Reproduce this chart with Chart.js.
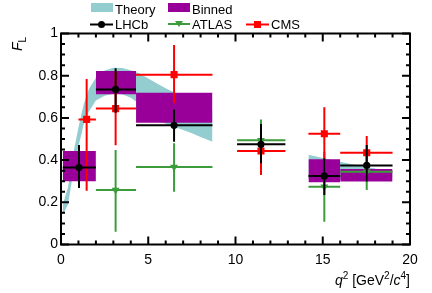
<!DOCTYPE html>
<html>
<head>
<meta charset="utf-8">
<title>FL vs q2</title>
<script src="https://cdn.jsdelivr.net/npm/chart.js"></script>
<style>
body{margin:0;background:#fff;font-family:'Liberation Sans',Arial,sans-serif;}
#wrap{position:relative;width:432px;height:293px;overflow:hidden;}
canvas{position:absolute;left:0;top:0;}
.lab{position:absolute;font-size:13px;line-height:13px;color:#000;white-space:nowrap;}
.sw{position:absolute;}
#ytitle{position:absolute;left:10px;top:51px;font-size:14px;line-height:14px;transform:rotate(-90deg);transform-origin:left top;white-space:nowrap;}
#ytitle sub{font-size:10px;vertical-align:-4px;}
#xtitle{position:absolute;right:22px;top:268px;font-size:14px;line-height:15px;white-space:nowrap;}
#xtitle sup{font-size:10px;vertical-align:6px;}
</style>
</head>
<body>
<div id="wrap">
  <canvas id="chart" width="432" height="293"></canvas>

  <!-- legend -->
  <div class="sw" style="left:91px;top:3px;width:22px;height:9px;background:#93cdd0"></div>
  <div class="lab" style="left:115px;top:3px">Theory</div>
  <div class="sw" style="left:168px;top:3px;width:22px;height:9px;background:#990099"></div>
  <div class="lab" style="left:192px;top:3px">Binned</div>
  <svg class="sw" style="left:0;top:0" width="300" height="40">
    <line x1="90" y1="24.5" x2="113" y2="24.5" stroke="#000" stroke-width="2"/>
    <circle cx="101.5" cy="24.5" r="3.5" fill="#000"/>
    <line x1="168" y1="24" x2="190" y2="24" stroke="#3c9c3c" stroke-width="2"/>
    <polygon points="175,21 183,21 179,27" fill="#3c9c3c"/>
    <line x1="246" y1="24.5" x2="269" y2="24.5" stroke="#ff0000" stroke-width="2"/>
    <rect x="254" y="21" width="7" height="7" fill="#ff0000"/>
  </svg>
  <div class="lab" style="left:115px;top:18px">LHCb</div>
  <div class="lab" style="left:192px;top:18px">ATLAS</div>
  <div class="lab" style="left:271px;top:18px">CMS</div>

  <div id="ytitle"><i>F</i><sub>L</sub></div>
  <div id="xtitle"><i>q</i><sup>2</sup> [GeV<sup>2</sup>/<i>c</i><sup>4</sup>]</div>
</div>

<script>
// ---- theory band (continuous prediction) ----
const bandLowX  = [0.1, 0.4, 0.7, 1.0, 1.3, 1.6, 2.0, 2.5, 3.0, 3.5, 4.0, 4.5, 5.0, 5.5, 6.0, 6.5, 7.0, 7.5, 8.0, 8.68];
const bandLowUp = [0.19, 0.27, 0.43, 0.555, 0.665, 0.737, 0.79, 0.825, 0.838, 0.836, 0.826, 0.81, 0.787, 0.763, 0.74, 0.72, 0.70, 0.68, 0.66, 0.635];
const bandLowDn = [0.14, 0.19, 0.34, 0.465, 0.57, 0.63, 0.682, 0.705, 0.715, 0.712, 0.695, 0.665, 0.625, 0.59, 0.572, 0.557, 0.543, 0.527, 0.51, 0.487];
const bandHighX  = [14.18, 15, 16, 17, 18, 19];
const bandHighUp = [0.425, 0.41, 0.392, 0.375, 0.36, 0.345];
const bandHighDn = [0.31, 0.31, 0.312, 0.314, 0.315, 0.315];

// ---- binned theory ----
const binLo = [0.1, 2.0, 4.3, 14.18, 16.0];
const binHi = [2.0, 4.3, 8.68, 16.0, 19.0];
const binMin = [0.30, 0.712, 0.577, 0.295, 0.298];
const binMax = [0.443, 0.822, 0.719, 0.404, 0.358];

// ---- LHCb ----
const lhcbX   = [1.03, 3.13, 6.48, 11.46, 15.09, 17.52];
const lhcbXlo = [0.1, 2.0, 4.3, 10.09, 14.18, 16.0];
const lhcbXhi = [2.0, 4.3, 8.68, 12.86, 16.0, 19.0];
const lhcbY   = [0.365, 0.735, 0.565, 0.475, 0.325, 0.375];
const lhcbYlo = [0.268, 0.625, 0.487, 0.385, 0.235, 0.298];
const lhcbYhi = [0.472, 0.835, 0.64, 0.571, 0.408, 0.471];

// ---- ATLAS ----
const atlasX   = [3.13, 6.48, 11.46, 15.09, 17.52];
const atlasXlo = [2.0, 4.3, 10.09, 14.18, 16.0];
const atlasXhi = [4.3, 8.68, 12.86, 16.0, 19.0];
const atlasY   = [0.258, 0.367, 0.494, 0.274, 0.345];
const atlasYlo = [0.061, 0.25, 0.40, 0.108, 0.258];
const atlasYhi = [0.448, 0.48, 0.593, 0.44, 0.43];

// ---- CMS ----
const cmsX   = [1.47, 3.13, 6.48, 11.46, 15.09, 17.52];
const cmsXlo = [1.0, 2.0, 4.3, 10.09, 14.18, 16.0];
const cmsXhi = [2.0, 4.3, 8.68, 12.86, 16.0, 19.0];
const cmsY   = [0.593, 0.644, 0.805, 0.443, 0.525, 0.435];
const cmsYlo = [0.255, 0.47, 0.669, 0.329, 0.40, 0.36];
const cmsYhi = [0.784, 0.82, 0.945, 0.55, 0.65, 0.514];

const xTicks = [0, 5, 10, 15, 20];
const yTicks = [0, 0.2, 0.4, 0.6, 0.8, 1];

const TEAL = '#93cdd0';
const PURPLE = '#990099';
const NONE = 'rgba(0,0,0,0)';

function pts(xs, ys) {
    return xs.map((x, i) => ({ x: x, y: ys[i] }));
}

// error bars as broken lines: each bar is two points then a gap
function hBars(x, lo, hi, y) {
    const out = [];
    x.forEach((_, i) => {
        out.push({ x: lo[i], y: y[i] }, { x: hi[i], y: y[i] }, { x: hi[i], y: null });
    });
    return out;
}
function vBars(x, lo, hi) {
    const out = [];
    x.forEach((xv, i) => {
        out.push({ x: xv, y: lo[i] }, { x: xv, y: hi[i] }, { x: xv, y: null });
    });
    return out;
}

function errSets(x, xlo, xhi, y, ylo, yhi, color, marker, order) {
    return [
        {
            data: hBars(x, xlo, xhi, y),
            borderColor: color, borderWidth: 2, pointRadius: 0, fill: false, order: order + 1
        },
        {
            data: vBars(x, ylo, yhi),
            borderColor: color, borderWidth: 2, pointRadius: 0, fill: false, order: order + 1
        },
        Object.assign({
            data: pts(x, y),
            showLine: false, borderWidth: 0, borderColor: color, backgroundColor: color,
            order: order
        }, marker)
    ];
}

const datasets = [];

// band: upper filled down to the lower line
datasets.push(
    { data: pts(bandLowX, bandLowUp), borderColor: NONE, borderWidth: 0, backgroundColor: TEAL, pointRadius: 0, fill: '+1', order: 30 },
    { data: pts(bandLowX, bandLowDn), borderColor: NONE, borderWidth: 0, pointRadius: 0, fill: false, order: 30 },
    { data: pts(bandHighX, bandHighUp), borderColor: NONE, borderWidth: 0, backgroundColor: TEAL, pointRadius: 0, fill: '+1', order: 30 },
    { data: pts(bandHighX, bandHighDn), borderColor: NONE, borderWidth: 0, pointRadius: 0, fill: false, order: 30 }
);

// binned boxes
binLo.forEach((lo, i) => {
    datasets.push({
        data: [{ x: lo, y: binMax[i] }, { x: binHi[i], y: binMax[i] }],
        borderColor: NONE, borderWidth: 0, pointRadius: 0,
        backgroundColor: PURPLE,
        fill: { target: { value: binMin[i] }, above: PURPLE, below: PURPLE },
        order: 20
    });
});

datasets.push(...errSets(atlasX, atlasXlo, atlasXhi, atlasY, atlasYlo, atlasYhi, '#3c9c3c',
    { pointStyle: 'triangle', rotation: 180, pointRadius: 4.5 }, 11));
datasets.push(...errSets(cmsX, cmsXlo, cmsXhi, cmsY, cmsYlo, cmsYhi, '#ff0000',
    { pointStyle: 'rect', pointRadius: 5 }, 6));
datasets.push(...errSets(lhcbX, lhcbXlo, lhcbXhi, lhcbY, lhcbYlo, lhcbYhi, '#000000',
    { pointStyle: 'circle', pointRadius: 3.6 }, 1));

// frame with inward ticks on all four sides (ROOT style)
const frameTicks = {
    id: 'frameTicks',
    afterDatasetsDraw(chart) {
        const { ctx, chartArea: a, scales: { x, y } } = chart;
        ctx.save();
        ctx.strokeStyle = '#000';
        ctx.lineWidth = 2;
        ctx.beginPath();
        for (let v = 0; v <= 20; v++) {
            const px = x.getPixelForValue(v);
            const len = v % 5 === 0 ? 8 : 4;
            ctx.moveTo(px, a.bottom); ctx.lineTo(px, a.bottom - len);
            ctx.moveTo(px, a.top); ctx.lineTo(px, a.top + len);
        }
        for (let i = 0; i <= 20; i++) {
            const py = y.getPixelForValue(i * 0.05);
            const len = i % 4 === 0 ? 8 : 4;
            ctx.moveTo(a.left, py); ctx.lineTo(a.left + len, py);
            ctx.moveTo(a.right, py); ctx.lineTo(a.right - len, py);
        }
        ctx.stroke();
        ctx.strokeRect(a.left, a.top, a.right - a.left, a.bottom - a.top);
        ctx.restore();
    }
};

const tickFont = { family: "'Liberation Sans', Arial, sans-serif", size: 14 };

new Chart(document.getElementById('chart'), {
    type: 'line',
    data: { datasets: datasets },
    options: {
        responsive: false,
        animation: false,
        layout: { padding: { top: 33.5, right: 22, left: 0, bottom: 0 } },
        plugins: { legend: { display: false }, tooltip: { enabled: false } },
        scales: {
            x: {
                type: 'linear', min: 0, max: 20,
                grid: { display: false, drawTicks: false }, border: { display: false },
                afterBuildTicks: s => { s.ticks = xTicks.map(v => ({ value: v })); },
                ticks: { color: '#000', font: tickFont, padding: 7, maxRotation: 0 },
                afterFit: s => { s.height = 48.5; }
            },
            y: {
                type: 'linear', min: 0, max: 1,
                grid: { display: false, drawTicks: false }, border: { display: false },
                afterBuildTicks: s => { s.ticks = yTicks.map(v => ({ value: v })); },
                ticks: {
                    color: '#000', font: tickFont, padding: 3,
                    callback: v => (v === 0 || v === 1) ? String(v) : v.toFixed(1)
                },
                afterFit: s => { s.width = 61; }
            }
        }
    },
    plugins: [frameTicks]
});
</script>
</body>
</html>
